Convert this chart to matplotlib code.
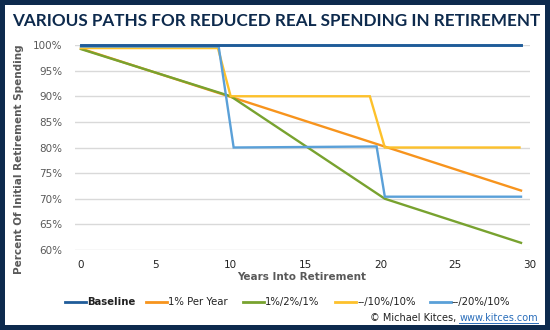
import matplotlib
matplotlib.use("Agg")
import matplotlib.pyplot as plt
from matplotlib.lines import Line2D
from matplotlib.patches import Rectangle

# ---- data (percent of initial retirement spending) ----
series_names = ["Baseline", "1% Per Year", "1%/2%/1%", "--/10%/10%", "--/20%/10%"]

baseline_x = [0, 29.4]
baseline_y = [100, 100]

per_year_x = [0, 29.4]
per_year_y = [99.3, 71.6]

step_121_x = [0, 10.0, 20.3, 29.4]
step_121_y = [99.2, 90.0, 70.0, 61.4]

ten_ten_x = [0, 9.15, 10.0, 19.3, 20.3, 29.3]
ten_ten_y = [99.4, 99.4, 90.0, 90.0, 80.0, 80.0]

twenty_ten_x = [0, 9.2, 10.2, 19.75, 20.3, 29.4]
twenty_ten_y = [99.7, 99.7, 80.0, 80.2, 70.4, 70.4]

y_ticks = [60, 65, 70, 75, 80, 85, 90, 95, 100]
x_ticks = [0, 5, 10, 15, 20, 25, 30]

colors = ["#1f5c99", "#f7941d", "#78a22f", "#fdc12b", "#5aa0d8"]
navy = "#0d2a4d"
gray = "#595959"

W, H = 550, 330
fig = plt.figure(figsize=(W / 100, H / 100), dpi=100)
fig.patch.set_facecolor("white")

# border
b = 5
for (x0, y0, w, h) in [(0, 0, W, b), (0, H - b, W, b), (0, 0, b, H), (W - b, 0, b, H)]:
    fig.patches.append(Rectangle((x0 / W, y0 / H), w / W, h / H, transform=fig.transFigure,
                                 facecolor=navy, edgecolor="none", zorder=10))

ax_l, ax_r, ax_t, ax_b = 75, 530, 45, 250
ax = fig.add_axes([ax_l / W, 1 - ax_b / H, (ax_r - ax_l) / W, (ax_b - ax_t) / H])

data = [(baseline_x, baseline_y), (per_year_x, per_year_y), (step_121_x, step_121_y),
        (ten_ten_x, ten_ten_y), (twenty_ten_x, twenty_ten_y)]
widths = [2.1, 1.7, 1.7, 1.7, 1.7]
order = [1, 2, 3, 4, 0]
for i in order:
    xs, ys = data[i]
    ax.plot(xs, ys, color=colors[i], lw=widths[i], clip_on=False, zorder=3 + (i == 0),
            solid_joinstyle="miter")

ax.set_xlim(-0.4, 30)
ax.set_ylim(60, 100)
ax.set_yticks(y_ticks)
ax.set_yticklabels([f"{v}%" for v in y_ticks])
ax.set_xticks(x_ticks)
ax.set_xticklabels([str(v) for v in x_ticks])
ax.grid(axis="y", color="#d9d9d9", lw=1)
ax.set_axisbelow(True)
for s in ax.spines.values():
    s.set_visible(False)
ax.tick_params(axis="both", length=0)
ax.tick_params(axis="y", pad=9, labelsize=7.5, labelcolor=gray)
ax.tick_params(axis="x", pad=7, labelsize=7.5, labelcolor="#222222")

fig.text(302 / W, 1 - 277 / H, "Years Into Retirement", ha="center", va="center",
         fontsize=7.5, fontweight="bold", color=gray)
fig.text(19.5 / W, 1 - 159 / H, "Percent Of Initial Retirement Spending", ha="center",
         va="center", rotation=90, fontsize=7.5, fontweight="bold", color=gray)

fig.text(12 / W, 1 - 21 / H, "VARIOUS PATHS FOR REDUCED REAL SPENDING IN RETIREMENT",
         ha="left", va="center", fontsize=12.3, fontweight="bold", color=navy,
         family="Lato")

# legend
leg_x = [65, 146, 243, 335, 430]
leg_y = 1 - 302 / H
for i, name in enumerate(series_names):
    fig.lines.append(Line2D([leg_x[i] / W, (leg_x[i] + 21) / W], [leg_y, leg_y],
                            transform=fig.transFigure, color=colors[i], lw=2))
    fig.text((leg_x[i] + 22) / W, leg_y, name, ha="left", va="center", fontsize=7.3,
             color="#222222", fontweight="bold" if i == 0 else "normal")

# copyright
t2 = fig.text(538 / W, 1 - 318 / H, "www.kitces.com", ha="right", va="center",
              fontsize=7, color="#2a6ebb")
fig.canvas.draw()
bb = t2.get_window_extent()
fig.text(bb.x0 / W, 1 - 318 / H, "© Michael Kitces, ", ha="right", va="center",
         fontsize=7, color="#222222")
fig.lines.append(Line2D([bb.x0 / W, bb.x1 / W], [(bb.y0 + 0.5) / H] * 2,
                        transform=fig.transFigure, color="#2a6ebb", lw=0.7))

fig.savefig("out.png", dpi=100)
